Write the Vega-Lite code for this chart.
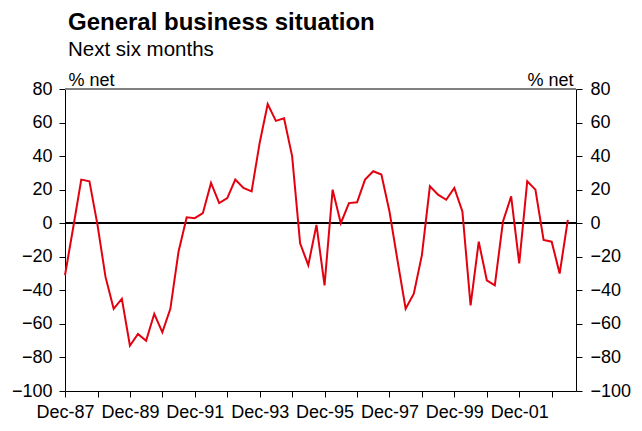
{
  "$schema": "https://vega.github.io/schema/vega-lite/v6.json",
  "autosize": "none",
  "width": 511,
  "height": 302,
  "padding": {"left": 65, "top": 89, "right": 66, "bottom": 40},
  "background": "white",
  "title": {
    "text": "General business situation",
    "subtitle": "Next six months",
    "anchor": "start",
    "frame": "group",
    "font": "Liberation Sans",
    "fontSize": 24,
    "fontWeight": "bold",
    "color": "black",
    "subtitleFont": "Liberation Sans",
    "subtitleFontSize": 20.5,
    "subtitleColor": "black",
    "subtitlePadding": 5,
    "offset": 11,
    "dx": 3
  },
  "data": {
    "values": [
      {"date": "1987-12-01", "value": -31},
      {"date": "1988-03-01", "value": -3},
      {"date": "1988-06-01", "value": 26},
      {"date": "1988-09-01", "value": 25},
      {"date": "1988-12-01", "value": -1},
      {"date": "1989-03-01", "value": -32},
      {"date": "1989-06-01", "value": -51},
      {"date": "1989-09-01", "value": -45},
      {"date": "1989-12-01", "value": -73},
      {"date": "1990-03-01", "value": -66},
      {"date": "1990-06-01", "value": -70},
      {"date": "1990-09-01", "value": -54},
      {"date": "1990-12-01", "value": -65},
      {"date": "1991-03-01", "value": -51},
      {"date": "1991-06-01", "value": -17},
      {"date": "1991-09-01", "value": 3.5},
      {"date": "1991-12-01", "value": 3},
      {"date": "1992-03-01", "value": 6},
      {"date": "1992-06-01", "value": 24},
      {"date": "1992-09-01", "value": 12},
      {"date": "1992-12-01", "value": 15},
      {"date": "1993-03-01", "value": 26},
      {"date": "1993-06-01", "value": 21},
      {"date": "1993-09-01", "value": 19},
      {"date": "1993-12-01", "value": 48},
      {"date": "1994-03-01", "value": 71},
      {"date": "1994-06-01", "value": 61},
      {"date": "1994-09-01", "value": 62.5},
      {"date": "1994-12-01", "value": 40},
      {"date": "1995-03-01", "value": -12},
      {"date": "1995-06-01", "value": -25},
      {"date": "1995-09-01", "value": -1},
      {"date": "1995-12-01", "value": -37},
      {"date": "1996-03-01", "value": 20},
      {"date": "1996-06-01", "value": 0},
      {"date": "1996-09-01", "value": 12},
      {"date": "1996-12-01", "value": 12.5},
      {"date": "1997-03-01", "value": 26},
      {"date": "1997-06-01", "value": 31},
      {"date": "1997-09-01", "value": 29},
      {"date": "1997-12-01", "value": 7},
      {"date": "1998-03-01", "value": -22},
      {"date": "1998-06-01", "value": -51},
      {"date": "1998-09-01", "value": -42},
      {"date": "1998-12-01", "value": -19},
      {"date": "1999-03-01", "value": 22},
      {"date": "1999-06-01", "value": 17},
      {"date": "1999-09-01", "value": 14},
      {"date": "1999-12-01", "value": 21},
      {"date": "2000-03-01", "value": 7},
      {"date": "2000-06-01", "value": -49},
      {"date": "2000-09-01", "value": -11},
      {"date": "2000-12-01", "value": -34},
      {"date": "2001-03-01", "value": -37},
      {"date": "2001-06-01", "value": 1},
      {"date": "2001-09-01", "value": 16},
      {"date": "2001-12-01", "value": -24},
      {"date": "2002-03-01", "value": 25},
      {"date": "2002-06-01", "value": 20},
      {"date": "2002-09-01", "value": -10},
      {"date": "2002-12-01", "value": -11},
      {"date": "2003-03-01", "value": -30},
      {"date": "2003-06-01", "value": 2}
    ]
  },
  "layer": [
    {
      "mark": {"type": "rule", "color": "#808080", "strokeWidth": 2},
      "encoding": {
        "y": {"datum": 80, "type": "quantitative", "axis": null, "scale": {"domain": [-100, 80], "nice": false, "zero": false}}
      }
    },
    {
      "mark": {"type": "rule", "color": "black", "strokeWidth": 1.5},
      "encoding": {
        "y": {
          "datum": 0,
          "type": "quantitative",
          "scale": {"domain": [-100, 80], "nice": false, "zero": false},
          "axis": {
            "orient": "right",
            "values": [-100, -80, -60, -40, -20, 0, 20, 40, 60, 80],
            "title": "% net",
            "titleAngle": 0,
            "titleAlign": "right",
            "titleBaseline": "alphabetic",
            "titleX": -3,
            "titleY": -4,
            "titleFont": "Liberation Sans",
            "titleFontSize": 18,
            "titleFontWeight": "normal",
            "titleColor": "black",
            "labelFont": "Liberation Sans",
            "labelFontSize": 18,
            "labelColor": "black",
            "labelPadding": 8,
            "labelAlign": "left",
            "tickSize": 6,
            "tickColor": "black",
            "domainColor": "black",
            "grid": false
          }
        }
      }
    },
    {
      "mark": {"type": "line", "color": "#e3000f", "strokeWidth": 2},
      "encoding": {
        "x": {
          "field": "date",
          "type": "temporal",
          "scale": {"type": "utc", "domain": ["1987-12-01", "2003-09-01"], "nice": false},
          "axis": {
            "values": ["1987-12-01", "1988-12-01", "1989-12-01", "1990-12-01", "1991-12-01", "1992-12-01", "1993-12-01", "1994-12-01", "1995-12-01", "1996-12-01", "1997-12-01", "1998-12-01", "1999-12-01", "2000-12-01", "2001-12-01", "2002-12-01"],
            "labelExpr": "utcyear(datum.value) % 2 == 1 ? utcFormat(datum.value, '%b-%y') : ''",
            "labelFont": "Liberation Sans",
            "labelFontSize": 18,
            "labelColor": "black",
            "labelPadding": 6,
            "labelOverlap": false,
            "labelFlush": false,
            "tickSize": 6,
            "tickColor": "black",
            "domainColor": "black",
            "grid": false,
            "title": null
          }
        },
        "y": {
          "field": "value",
          "type": "quantitative",
          "scale": {"domain": [-100, 80], "nice": false, "zero": false},
          "axis": {
            "orient": "left",
            "values": [-100, -80, -60, -40, -20, 0, 20, 40, 60, 80],
            "title": "% net",
            "titleAngle": 0,
            "titleAlign": "left",
            "titleBaseline": "alphabetic",
            "titleX": 3,
            "titleY": -4,
            "titleFont": "Liberation Sans",
            "titleFontSize": 18,
            "titleFontWeight": "normal",
            "titleColor": "black",
            "labelFont": "Liberation Sans",
            "labelFontSize": 18,
            "labelColor": "black",
            "labelPadding": 7,
            "tickSize": 6,
            "tickColor": "black",
            "domainColor": "black",
            "grid": false
          }
        }
      }
    }
  ],
  "resolve": {"axis": {"y": "independent"}},
  "config": {"view": {"stroke": null}}
}
